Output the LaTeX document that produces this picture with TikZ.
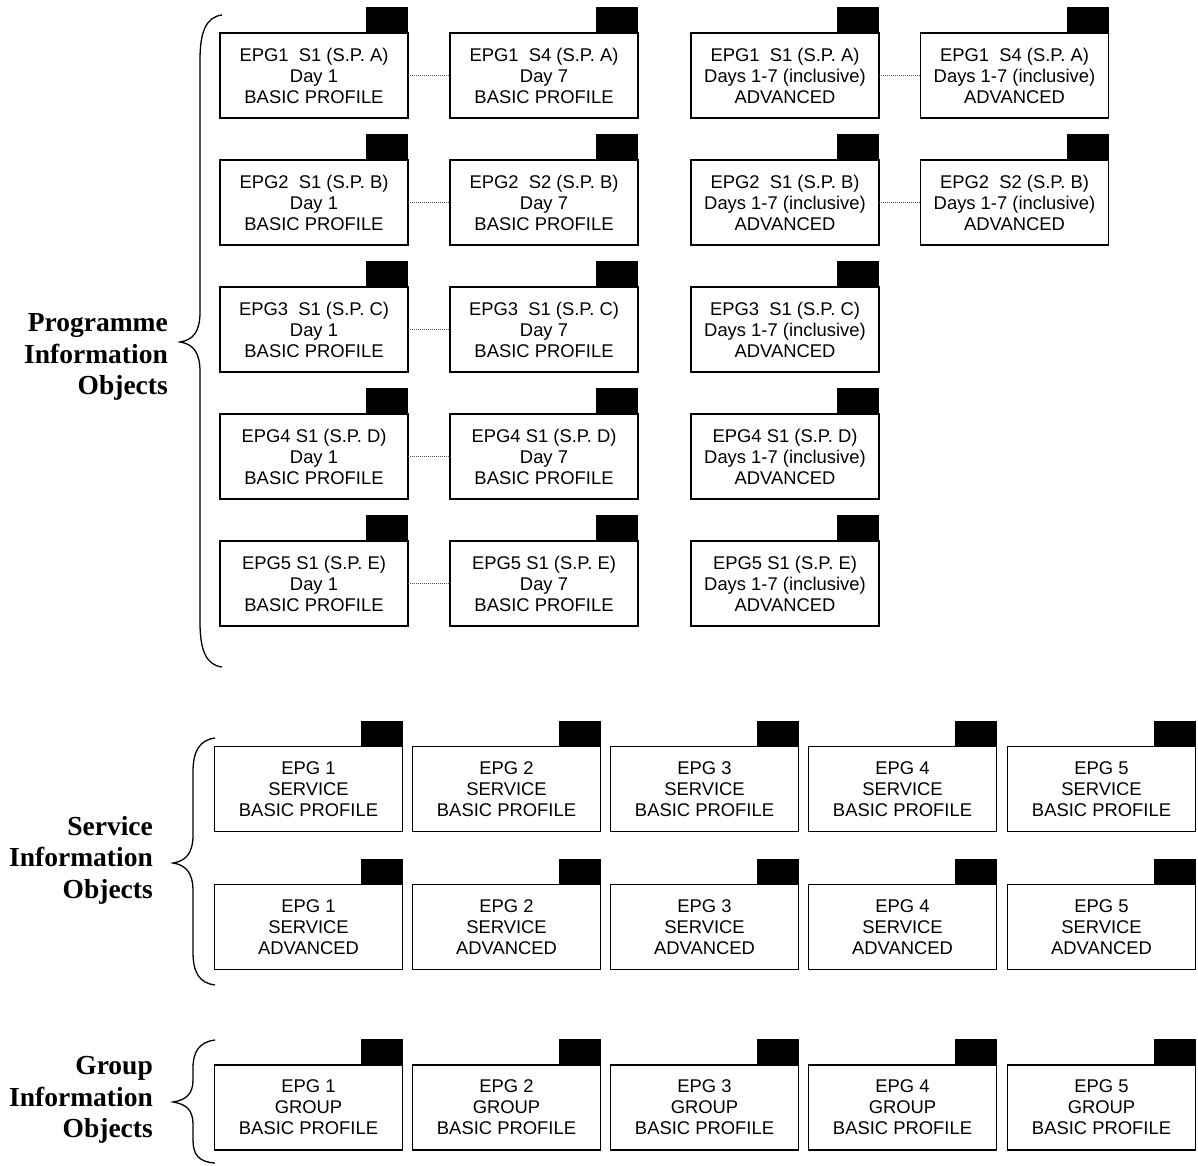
\documentclass[tikz,border=0pt]{standalone}
\usepackage{fontspec}
\setmainfont{Liberation Sans}
\newfontfamily\lblfont{Liberation Serif}
\tikzset{
  obj/.style={draw, line width=1.2pt, minimum width=188pt, minimum height=85pt,
    inner sep=0pt, outer sep=0pt, align=center,
    font=\fontsize{18.4}{21}\selectfont},
  tabfill/.style={fill=black},
  conn/.style={draw=black!70, line width=0.8pt, dash pattern=on 1pt off 1pt},
  brace/.style={draw, line width=1.3pt},
  grouplbl/.style={anchor=east, align=right, inner sep=0pt,
    font=\lblfont\bfseries\fontsize{27.5}{31.5}\selectfont}
}
\newcommand\objbox[4]{%
  \node[obj] (#1) at (#2,#3) {#4};
  \fill[tabfill] (#1.north east) rectangle ++(-42,-26);}
\begin{document}
\begin{tikzpicture}[x=1pt,y=-1pt]
\useasboundingbox (0,0) rectangle (1198,1165);
% Programme information objects
\objbox{p11}{314}{75.5}{EPG1\ \ S1 (S.P. A)\\Day 1\\BASIC PROFILE}
\objbox{p12}{544}{75.5}{EPG1\ \ S4 (S.P. A)\\Day 7\\BASIC PROFILE}
\objbox{p13}{785}{75.5}{EPG1\ \ S1 (S.P. A)\\Days 1-7 (inclusive)\\ADVANCED}
\objbox{p14}{1014.5}{75.5}{EPG1\ \ S4 (S.P. A)\\Days 1-7 (inclusive)\\ADVANCED}
\objbox{p21}{314}{202.5}{EPG2\ \ S1 (S.P. B)\\Day 1\\BASIC PROFILE}
\objbox{p22}{544}{202.5}{EPG2\ \ S2 (S.P. B)\\Day 7\\BASIC PROFILE}
\objbox{p23}{785}{202.5}{EPG2\ \ S1 (S.P. B)\\Days 1-7 (inclusive)\\ADVANCED}
\objbox{p24}{1014.5}{202.5}{EPG2\ \ S2 (S.P. B)\\Days 1-7 (inclusive)\\ADVANCED}
\objbox{p31}{314}{329.5}{EPG3\ \ S1 (S.P. C)\\Day 1\\BASIC PROFILE}
\objbox{p32}{544}{329.5}{EPG3\ \ S1 (S.P. C)\\Day 7\\BASIC PROFILE}
\objbox{p33}{785}{329.5}{EPG3\ \ S1 (S.P. C)\\Days 1-7 (inclusive)\\ADVANCED}
\objbox{p41}{314}{456.5}{EPG4 S1 (S.P. D)\\Day 1\\BASIC PROFILE}
\objbox{p42}{544}{456.5}{EPG4 S1 (S.P. D)\\Day 7\\BASIC PROFILE}
\objbox{p43}{785}{456.5}{EPG4 S1 (S.P. D)\\Days 1-7 (inclusive)\\ADVANCED}
\objbox{p51}{314}{583.5}{EPG5 S1 (S.P. E)\\Day 1\\BASIC PROFILE}
\objbox{p52}{544}{583.5}{EPG5 S1 (S.P. E)\\Day 7\\BASIC PROFILE}
\objbox{p53}{785}{583.5}{EPG5 S1 (S.P. E)\\Days 1-7 (inclusive)\\ADVANCED}
\draw[conn] (p11) -- (p12);
\draw[conn] (p13) -- (p14);
\draw[conn] (p21) -- (p22);
\draw[conn] (p23) -- (p24);
\draw[conn] (p31) -- (p32);
\draw[conn] (p41) -- (p42);
\draw[conn] (p51) -- (p52);
% Service information objects
\foreach \i/\x in {1/308.5,2/506.5,3/704.5,4/902.5,5/1101.5}{
  \objbox{sb\i}{\x}{789}{EPG \i\\SERVICE\\BASIC PROFILE}
  \objbox{sa\i}{\x}{927}{EPG \i\\SERVICE\\ADVANCED}
  \objbox{g\i}{\x}{1107.5}{EPG \i\\GROUP\\BASIC PROFILE}
}
% Braces
\draw[brace] (222,15) .. controls (206,17) and (200,32) .. (200,60) -- (200,312)
  .. controls (200,332) and (193,340) .. (180,342)
  .. controls (193,344) and (200,352) .. (200,372) -- (200,622)
  .. controls (200,650) and (206,665) .. (222,667);
\draw[brace] (215,738) .. controls (199,740) and (193,752) .. (193,772) -- (193,835)
  .. controls (193,853) and (186,861) .. (173,863)
  .. controls (186,865) and (193,873) .. (193,891) -- (193,952)
  .. controls (193,972) and (199,983) .. (215,985);
\draw[brace] (215,1040) .. controls (199,1042) and (193,1052) .. (193,1068) -- (193,1080)
  .. controls (193,1094) and (186,1100) .. (173,1102)
  .. controls (186,1104) and (193,1110) .. (193,1124) -- (193,1140)
  .. controls (193,1155) and (199,1162) .. (215,1163);
% Labels
\node[grouplbl] (lp) at (168,357) {Programme\\Information\\Objects};
\node[grouplbl] (ls) at (153,860) {Service\\Information\\Objects};
\node[grouplbl] (lg) at (153,1100) {Group\\Information\\Objects};
\end{tikzpicture}
\end{document}
